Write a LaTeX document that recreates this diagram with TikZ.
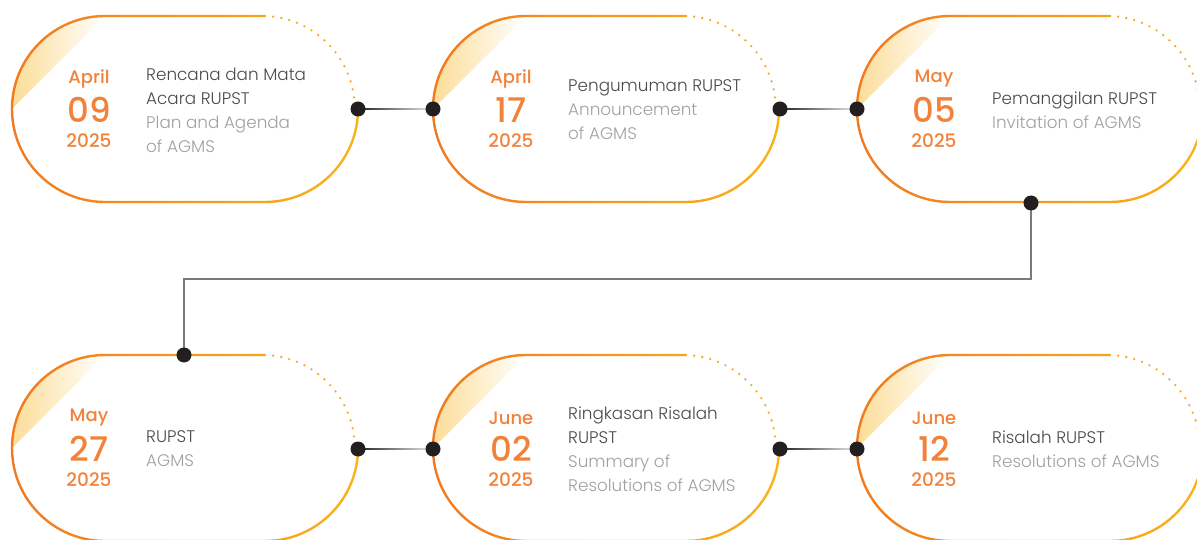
\documentclass[tikz,border=0pt]{standalone}
\usepackage{fontspec}
\setmainfont{Poppins}
\newfontfamily\datefont{Poppins}[UprightFont={* Medium}]
\newfontfamily\descfont{Poppins}[UprightFont={* Light}]
\usetikzlibrary{calc}
\pgfdeclarelayer{bg}
\pgfsetlayers{bg,main}
\definecolor{orA}{HTML}{F07A22}
\definecolor{yeA}{HTML}{F9B41A}
\definecolor{dotY}{HTML}{F8AA22}
\definecolor{wedge}{HTML}{FCDD98}
\definecolor{dateC}{HTML}{F2813A}
\definecolor{txtA}{HTML}{4A4A4A}
\definecolor{txtB}{HTML}{A0A0A0}
\definecolor{dotC}{HTML}{231F20}
\definecolor{elbowC}{HTML}{7A7A7A}
\tikzset{
  x=1pt,y=-1pt,
  dotnode/.style={circle, fill=dotC, inner sep=0pt, minimum size=15pt},
  monthtxt/.style={font=\datefont\fontsize{18}{20}\selectfont, text=dateC, inner sep=0pt},
  daytxt/.style={font=\datefont\fontsize{34}{36}\selectfont, text=dateC, inner sep=0pt},
  yeartxt/.style={font=\datefont\fontsize{18.5}{20}\selectfont, text=dateC, inner sep=0pt},
  desc/.style={font=\descfont\fontsize{16.8}{24}\selectfont, text=txtA, align=left, anchor=west, inner sep=0pt},
  hconn/.style={left color=dotC, right color=black!8},
  elbow/.style={draw=elbowC, line width=1.2pt},
  capsule/.pic={
    \shade[left color=wedge, right color=white] (93,-93) arc[start angle=270,end angle=180,radius=93] -- cycle;
    \begin{scope}
      \clip (-10,-110) -- (253,-110) -- (253,-4) -- (360,-4) -- (360,110) -- (-10,110) -- cycle;
      \shade[even odd rule, left color=orA, right color=yeA]
        (93,-94.2) -- (253,-94.2) arc[start angle=270,end angle=450,radius=94.2]
        -- (93,94.2) arc[start angle=90,end angle=270,radius=94.2] -- cycle
        (93,-91.8) -- (253,-91.8) arc[start angle=270,end angle=450,radius=91.8]
        -- (93,91.8) arc[start angle=90,end angle=270,radius=91.8] -- cycle;
    \end{scope}
    \draw[draw=dotY, line width=2.6pt, line cap=round, dash pattern=on 0pt off 8.2pt]
      (253,-93) arc[start angle=272,end angle=354,radius=93];
  }
}
\begin{document}
\begin{tikzpicture}
\useasboundingbox (0,0) rectangle (1197,540);
\clip (0,0) rectangle (1197,540);

% capsules
\pic at (12,109) {capsule};
\pic at (433,109) {capsule};
\pic at (857,109) {capsule};
\pic at (12,448) {capsule};
\pic at (433,448) {capsule};
\pic at (857,448) {capsule};

% capsule 1
\node[monthtxt] (m1) at (89,79) {April};
\node[daytxt] (n1) at (89,110) {09};
\node[yeartxt] (y1) at (89,141) {2025};
\node[desc] (t1) at (146,110) {Rencana dan Mata\\Acara RUPST\\\textcolor{txtB}{Plan and Agenda}\\\textcolor{txtB}{of AGMS}};

% capsule 2
\node[monthtxt] (m2) at (511,79) {April};
\node[daytxt] (n2) at (511,110) {17};
\node[yeartxt] (y2) at (511,141) {2025};
\node[desc] (t2) at (568,110) {Pengumuman RUPST\\\textcolor{txtB}{Announcement}\\\textcolor{txtB}{of AGMS}};

% capsule 3
\node[monthtxt] (m3) at (934,79) {May};
\node[daytxt] (n3) at (934,110) {05};
\node[yeartxt] (y3) at (934,141) {2025};
\node[desc] (t3) at (992,110) {Pemanggilan RUPST\\\textcolor{txtB}{Invitation of AGMS}};

% capsule 4
\node[monthtxt] (m4) at (89,418) {May};
\node[daytxt] (n4) at (89,449) {27};
\node[yeartxt] (y4) at (89,480) {2025};
\node[desc] (t4) at (146,449) {RUPST\\\textcolor{txtB}{AGMS}};

% capsule 5
\node[monthtxt] (m5) at (511,418) {June};
\node[daytxt] (n5) at (511,449) {02};
\node[yeartxt] (y5) at (511,480) {2025};
\node[desc] (t5) at (568,449) {Ringkasan Risalah\\RUPST\\\textcolor{txtB}{Summary of}\\\textcolor{txtB}{Resolutions of AGMS}};

% capsule 6
\node[monthtxt] (m6) at (934,418) {June};
\node[daytxt] (n6) at (934,449) {12};
\node[yeartxt] (y6) at (934,480) {2025};
\node[desc] (t6) at (992,449) {Risalah RUPST\\\textcolor{txtB}{Resolutions of AGMS}};

% dots
\node[dotnode] (a1) at (358,109) {};
\node[dotnode] (a2) at (433,109) {};
\node[dotnode] (a3) at (780,109) {};
\node[dotnode] (a4) at (857,109) {};
\node[dotnode] (a5) at (1031,203) {};
\node[dotnode] (a6) at (184,355) {};
\node[dotnode] (b1) at (358,449) {};
\node[dotnode] (b2) at (433,449) {};
\node[dotnode] (b3) at (780,449) {};
\node[dotnode] (b4) at (857,449) {};

% connectors
\begin{pgfonlayer}{bg}
\shade[hconn] ($(a1.center)+(0,-0.7)$) rectangle ($(a2.center)+(0,0.7)$);
\shade[hconn] ($(a3.center)+(0,-0.7)$) rectangle ($(a4.center)+(0,0.7)$);
\shade[hconn] ($(b1.center)+(0,-0.7)$) rectangle ($(b2.center)+(0,0.7)$);
\shade[hconn] ($(b3.center)+(0,-0.7)$) rectangle ($(b4.center)+(0,0.7)$);
\draw[elbow] (a5.center) -- ++(0,76) -| (a6.center);
\end{pgfonlayer}
\end{tikzpicture}
\end{document}
